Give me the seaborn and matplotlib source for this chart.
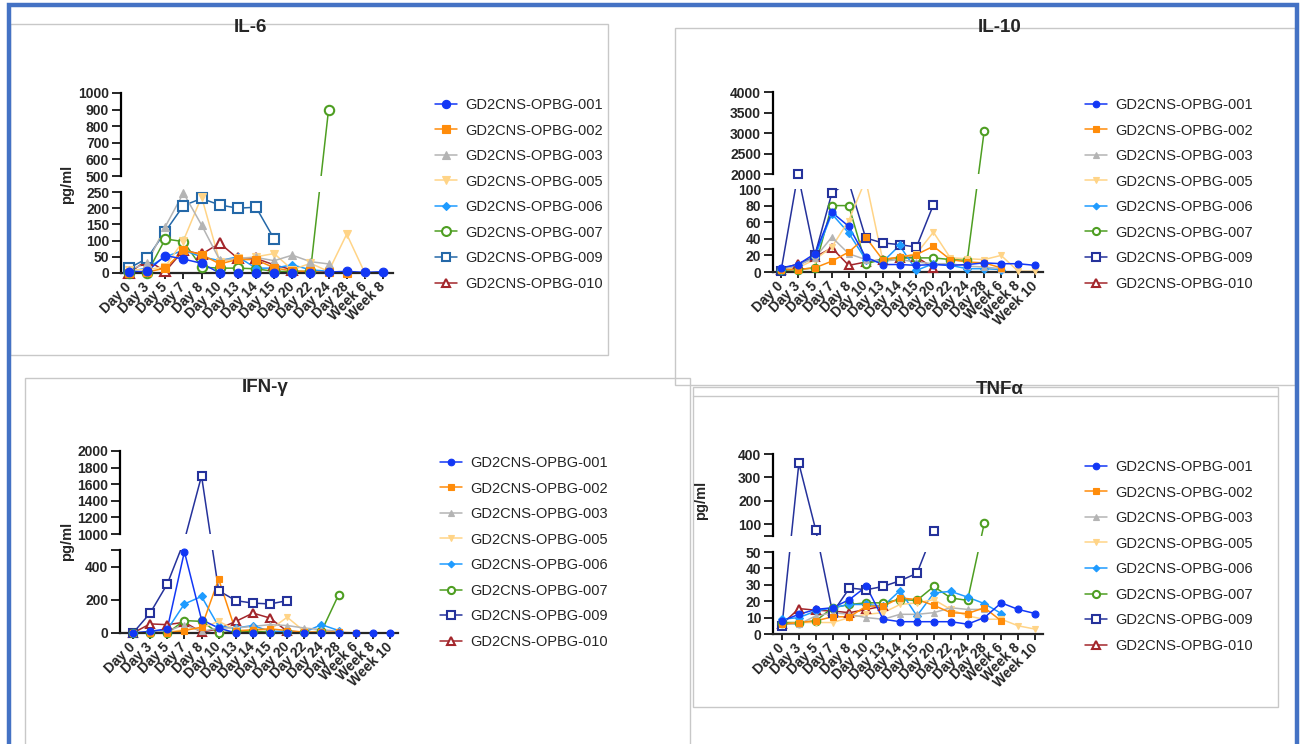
import numpy as np
import matplotlib
matplotlib.use("Agg")
import matplotlib.pyplot as plt
import seaborn as sns
from matplotlib.lines import Line2D
from matplotlib.patches import Rectangle

nan = np.nan

# ---------------- categories / labels ----------------
days15 = ["Day 0", "Day 3", "Day 5", "Day 7", "Day 8", "Day 10", "Day 13", "Day 14",
          "Day 15", "Day 20", "Day 22", "Day 24", "Day 28", "Week 6", "Week 8"]
days16 = days15 + ["Week 10"]
patients = ["GD2CNS-OPBG-001", "GD2CNS-OPBG-002", "GD2CNS-OPBG-003", "GD2CNS-OPBG-005",
            "GD2CNS-OPBG-006", "GD2CNS-OPBG-007", "GD2CNS-OPBG-009", "GD2CNS-OPBG-010"]

# ---------------- IL-6 (pg/ml) ----------------
il6_001 = [3, 5, 54, 43, 30, 0, 0, 0, 0, 0, 0, 3, 5, 2, 4]
il6_002 = [0, 3, 15, 70, 57, 28, 42, 41, 16, 6, 5, 2, 0, nan, nan]
il6_003 = [10, 30, 143, 247, 148, 40, 45, 48, 38, 55, 35, 28, nan, nan, nan]
il6_005 = [10, 10, 20, 100, 235, 35, 45, 50, 60, 10, 30, 5, 120, 0, nan]
il6_006 = [5, 15, 50, 70, 50, 38, 50, 15, 15, 25, 10, 5, nan, nan, nan]
il6_007 = [0, 0, 105, 97, 18, 15, 15, 13, 5, 5, 5, 900, nan, nan, nan]
il6_009 = [15, 45, 128, 208, 230, 210, 200, 203, 105, nan, nan, nan, nan, nan, nan]
il6_010 = [0, 40, 5, 70, 58, 92, 45, 45, 25, 10, nan, nan, nan, nan, nan]

# ---------------- IL-10 (pg/ml) ----------------
il10_001 = [5, 9, 22, 72, 55, 18, 9, 9, 8, 9, 8, 9, 11, 10, 10, 8]
il10_002 = [3, 3, 5, 13, 24, 42, 15, 18, 21, 31, 15, 12, 11, 5, nan, nan]
il10_003 = [3, 8, 17, 42, 22, 15, 13, 15, 12, 10, 10, 7, 6, 4, nan, nan]
il10_005 = [3, 5, 15, 30, 62, 1300, 15, 18, 22, 48, 17, 16, 15, 20, 1, 1]
il10_006 = [3, 8, 18, 70, 47, 15, 12, 32, 2, 10, 8, 4, 4, 3, nan, nan]
il10_007 = [2, 3, 5, 80, 80, 10, 15, 17, 17, 17, 15, 14, 3050, nan, nan, nan]
il10_009 = [1, 2000, 20, 95, 1000, 41, 35, 33, 30, 81, nan, nan, nan, nan, nan, nan]
il10_010 = [3, 10, 18, 29, 8, 12, 15, 17, 18, 5, nan, nan, nan, nan, nan, nan]

# ---------------- IFN-gamma (pg/ml) ----------------
ifn_001 = [0, 10, 25, 490, 80, 30, 0, 0, 0, 0, 0, 0, 0, 0, 0, 0]
ifn_002 = [0, 0, 0, 15, 35, 325, 10, 20, 25, 15, 5, 5, 5, 0, nan, nan]
ifn_003 = [0, 5, 10, 50, 10, 30, 30, 40, 50, 45, 30, 20, 10, nan, nan, nan]
ifn_005 = [0, 0, 5, 20, 30, 70, 20, 15, 20, 95, 10, 5, 5, nan, nan, nan]
ifn_006 = [0, 5, 20, 175, 220, 40, 30, 45, 10, 10, 5, 50, 15, nan, nan, nan]
ifn_007 = [0, 0, 0, 75, 70, 0, 10, 10, 5, 5, 5, 10, 230, nan, nan, nan]
ifn_009 = [0, 120, 295, 800, 1700, 255, 195, 180, 175, 195, nan, nan, nan, nan, nan, nan]
ifn_010 = [0, 55, 50, 65, 5, 25, 70, 120, 90, 10, nan, nan, nan, nan, nan, nan]

# ---------------- TNF-alpha (pg/ml) ----------------
tnf_001 = [8, 12, 15, 16, 21, 29, 9, 7.5, 7.5, 7.5, 7.5, 6, 10, 19, 15, 12.5]
tnf_002 = [6, 7, 8, 10.5, 10.5, 17, 17, 22, 21, 17.5, 13, 12.5, 16, 8, nan, nan]
tnf_003 = [6, 6, 11, 13, 12, 10, 9, 12, 12, 13, 16, 15, 15, nan, nan, nan]
tnf_005 = [6, 7, 7, 7, 10, 12, 13, 18, 19, 21, 15, 11, 9, 9, 5, 3]
tnf_006 = [9, 10, 14, 16, 18, 18, 17, 26.5, 11, 25, 26, 22.5, 18.5, 12.5, nan, nan]
tnf_007 = [7, 7, 8, 16, 18, 19, 19, 21, 20.5, 29, 22, 20.5, 107, nan, nan, nan]
tnf_009 = [5, 360, 76, 13, 28, 27, 29, 32.5, 37, 73, nan, nan, nan, nan, nan, nan]
tnf_010 = [6, 15.5, 14.5, 14, 13, 15, 17, nan, nan, nan, nan, nan, nan, nan, nan, nan]

IL6 = [il6_001, il6_002, il6_003, il6_005, il6_006, il6_007, il6_009, il6_010]
IL10 = [il10_001, il10_002, il10_003, il10_005, il10_006, il10_007, il10_009, il10_010]
IFN = [ifn_001, ifn_002, ifn_003, ifn_005, ifn_006, ifn_007, ifn_009, ifn_010]
TNF = [tnf_001, tnf_002, tnf_003, tnf_005, tnf_006, tnf_007, tnf_009, tnf_010]

# ---------------- styles ----------------
colors = ["#1237F5", "#FF8C0A", "#B4B4B4", "#FFD487", "#1E9BFF", "#4E9E22", "#25329B", "#A3262B"]
markers = ["o", "s", "^", "v", "D", "o", "s", "^"]
filled = [True, True, True, True, True, False, False, False]
msizes = [5.0, 5.0, 5.0, 5.0, 3.6, 5.4, 5.4, 5.4]

sns.set_style("white")
plt.rcParams["font.family"] = ["Liberation Sans", "DejaVu Sans"]

W, H = 1303, 744
fig = plt.figure(figsize=(W / 100, H / 100), dpi=100)
fig.patch.set_facecolor("white")


def fx(x):
    return x / W


def fy(y):
    return 1 - y / H


# panel frames
def box(x0, y0, x1, y1, color="#C8C8C8", lw=1.0):
    fig.add_artist(Rectangle((fx(x0), fy(y1)), fx(x1 - x0), (y1 - y0) / H,
                             transform=fig.transFigure, fill=False, ec=color, lw=lw, zorder=0))


box(10, 24, 608, 355)
box(675, 28, 1295, 385)
box(25, 378, 690, 760)
box(693, 387, 1278, 707)
fig.add_artist(Line2D([fx(693), fx(1278)], [fy(396), fy(396)], transform=fig.transFigure,
                      color="#C8C8C8", lw=1.0))
# outer blue frame
fig.add_artist(Rectangle((fx(8.5), fy(760)), fx(1297 - 8.5), (760 - 5) / H,
                         transform=fig.transFigure, fill=False, ec="#4472C4", lw=3.2, zorder=10))


def make_scale(b1, b2, top, h1, g, h2):
    s1 = h1 / b1
    s3 = h2 / (top - b2)
    big = 1e7
    xp = np.array([-big, 0.0, b1, b2, top, top + big])
    fp = np.array([-big * s1, 0.0, h1, h1 + g, h1 + g + h2, h1 + g + h2 + big * s3])

    def fwd(v):
        return np.interp(np.asarray(v, dtype=float), xp, fp)

    def inv(d):
        return np.interp(np.asarray(d, dtype=float), fp, xp)
    return fwd, inv


panels = [
    dict(title="IL-6", cats=days15, data=IL6, x0=121, x1=393, c0=129, c1=383, yzero=273,
         b1=250, b2=500, top=1000, h1=81, g=16, h2=83,
         ticks=[0, 50, 100, 150, 200, 250, 500, 600, 700, 800, 900, 1000],
         labels=["0", "50", "100", "150", "200", "250", "500", "600", "700", "800", "900", "1000"],
         title_xy=(250, 28), ylab_xy=(67, 184), leg_xy=(435, 104), c009="#2468A8", msf=1.25),
    dict(title="IL-10", cats=days16, data=IL10, x0=773, x1=1043, c0=781, c1=1035, yzero=272,
         b1=100, b2=2000, top=4000, h1=83, g=15, h2=82,
         ticks=[0, 20, 40, 60, 80, 100, 2000, 2500, 3000, 3500, 4000],
         labels=["0", "20", "40", "60", "80", "100", "2000", "2500", "3000", "3500", "4000"],
         title_xy=(1000, 28), ylab_xy=None, leg_xy=(1085, 104), c009="#25329B", msf=1.0),
    dict(title="IFN-γ", cats=days16, data=IFN, x0=120, x1=398, c0=133, c1=390, yzero=633,
         b1=500, b2=1000, top=2000, h1=83, g=16, h2=83,
         ticks=[0, 200, 400, 500, 1000, 1200, 1400, 1600, 1800, 2000],
         labels=["0", "200", "400", "", "1000", "1200", "1400", "1600", "1800", "2000"],
         title_xy=(265, 388), ylab_xy=(67, 541), leg_xy=(440, 462), c009="#25329B", msf=1.0),
    dict(title="TNFα", cats=days16, data=TNF, x0=773, x1=1043, c0=782, c1=1035, yzero=634,
         b1=50, b2=50.001, top=400, h1=82, g=16, h2=82,
         ticks=[0, 10, 20, 30, 40, 50, 50.001, 100, 200, 300, 400],
         labels=["0", "10", "20", "30", "40", "50", "", "100", "200", "300", "400"],
         title_xy=(1000, 390), ylab_xy=(701, 500), leg_xy=(1085, 466), c009="#25329B", msf=1.0),
]

pad = 6
for p in panels:
    b1, b2, top = p["b1"], p["b2"], p["top"]
    h1, g, h2 = p["h1"], p["g"], p["h2"]
    tot = h1 + g + h2
    y0 = p["yzero"]
    ax = fig.add_axes([fx(p["x0"]), fy(y0 + pad), fx(p["x1"] - p["x0"]), (tot + 2 * pad) / H])
    ax.set_facecolor("none")
    fwd, inv = make_scale(b1, b2, top, h1, g, h2)
    ax.set_yscale("function", functions=(fwd, inv))

    n = len(p["cats"])
    xs = np.arange(n)
    cols = list(colors)
    cols[6] = p["c009"]
    handles = []
    for i in reversed(range(len(patients))):
        vals = np.array(p["data"][i], dtype=float)
        c = cols[i]
        ms = msizes[i] * p["msf"]
        fc = c if filled[i] else "white"
        mew = 0.8 if filled[i] else 1.5
        # connecting lines (hidden inside the axis break)
        sns.lineplot(x=xs, y=vals, ax=ax, color=c, lw=1.1, estimator=None, errorbar=None,
                     sort=False, zorder=3 + (8 - i) * 0.01)
        # symbols for the points that sit on a drawn axis segment
        on_axis = ~((vals > b1) & (vals < b2))
        mv = np.where(on_axis, vals, np.nan)
        sns.lineplot(x=xs, y=mv, ax=ax, color=c, linestyle="none", marker=markers[i],
                     markersize=ms, markerfacecolor=fc, markeredgecolor=c, markeredgewidth=mew,
                     estimator=None, errorbar=None, sort=False, zorder=10 + (8 - i) * 0.01)
    for i in range(len(patients)):
        c = cols[i]
        handles.append(Line2D([0], [0], color=c, lw=1.1, marker=markers[i],
                              markersize=msizes[i] * p["msf"] * 0.95,
                              markerfacecolor=c if filled[i] else "white",
                              markeredgecolor=c, markeredgewidth=0.8 if filled[i] else 1.5))

    # gap mask for the broken axis
    yt = ax.get_yaxis_transform()
    ax.add_patch(Rectangle((0.004, b1), 1.2, b2 - b1, transform=yt, fc="white", ec="none",
                           zorder=8, clip_on=False))
    # y spine segments
    ax.plot([0, 0], [0, b1], transform=yt, color="black", lw=1.6, clip_on=False, zorder=9,
            solid_capstyle="projecting")
    ax.plot([0, 0], [b2, top], transform=yt, color="black", lw=1.6, clip_on=False, zorder=9,
            solid_capstyle="projecting")

    sp = (p["c1"] - p["c0"]) / (n - 1)
    ax.set_xlim(-(p["c0"] - p["x0"]) / sp, (n - 1) + (p["x1"] - p["c1"]) / sp)
    ax.set_ylim(inv(-pad), inv(tot + pad))

    for s in ["top", "right", "left"]:
        ax.spines[s].set_visible(False)
    ax.spines["bottom"].set_position(("data", 0))
    ax.spines["bottom"].set_linewidth(1.6)
    ax.spines["bottom"].set_zorder(9)

    ax.set_yticks(p["ticks"], p["labels"], fontweight="bold", fontsize=10)
    ax.minorticks_off()
    ax.set_xticks(xs, p["cats"], rotation=45, ha="right", va="center", rotation_mode="anchor",
                  fontweight="bold", fontsize=10)
    ax.tick_params(axis="y", direction="out", length=6.5, width=1.4, pad=2, left=True)
    ax.tick_params(axis="x", direction="out", length=4.5, width=1.4, pad=4, bottom=True)
    ax.set_xlabel("")
    ax.set_ylabel("")
    ax.grid(False)

    fig.text(fx(p["title_xy"][0]), fy(p["title_xy"][1]), p["title"], ha="center", va="center",
             fontsize=13.5, fontweight="bold")
    if p["ylab_xy"] is not None:
        fig.text(fx(p["ylab_xy"][0]), fy(p["ylab_xy"][1]), "pg/ml", ha="center", va="center",
                 rotation=90, fontsize=10.5, fontweight="bold")

    lx, ly = p["leg_xy"]
    fig.legend(handles, patients, loc="upper left", bbox_to_anchor=(fx(lx), fy(ly - 6)),
               bbox_transform=fig.transFigure, frameon=False, borderpad=0, borderaxespad=0,
               handlelength=1.5, handletextpad=0.55, labelspacing=0.79,
               prop={"size": 10.5})

fig.savefig("out.png", dpi=100, facecolor="white")
